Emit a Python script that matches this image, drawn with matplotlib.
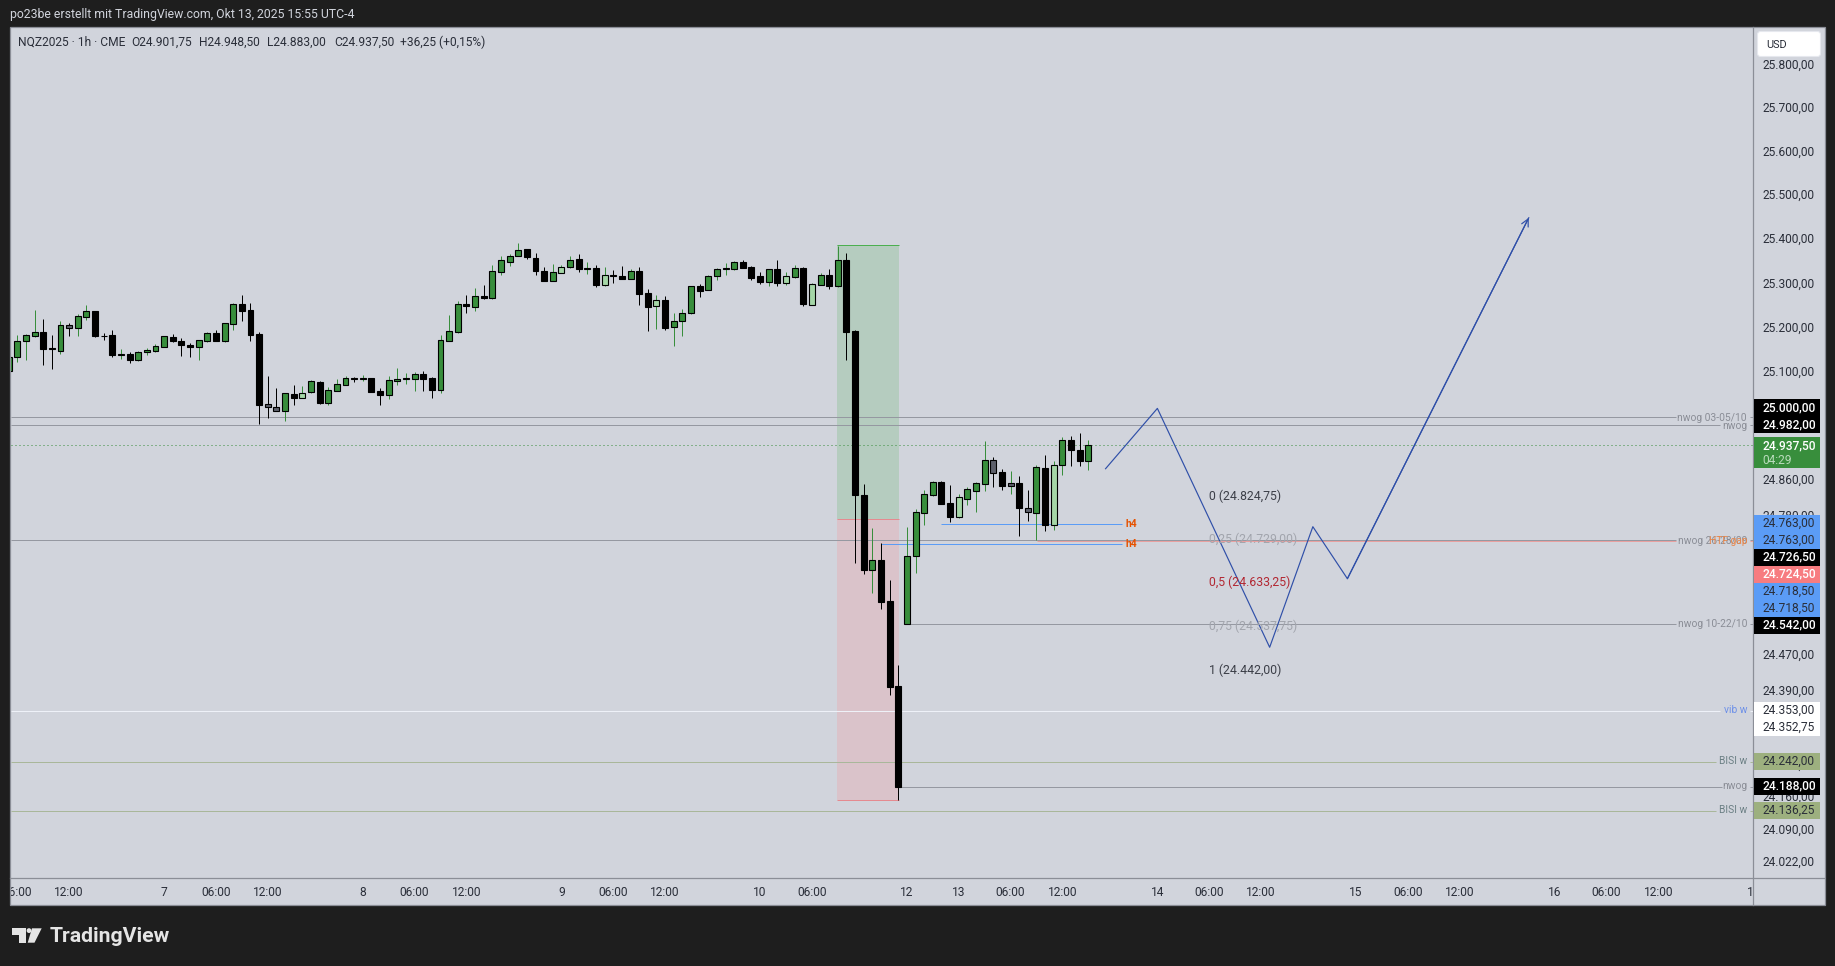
import matplotlib
matplotlib.use("Agg")
import matplotlib.pyplot as plt
from matplotlib.patches import Rectangle, Polygon, Circle, FancyBboxPatch
from matplotlib.ticker import NullLocator

plt.rcParams['font.family'] = ['Roboto', 'DejaVu Sans']

# --- OHLC 1h NQZ2025 ---
opens = [
    25104.5, 25134, 25170, 25183, 25191, 25155.5, 25149.5, 25206.5, 25201, 25226,
    25239, 25183.25, 25184, 25140.5, 25141, 25129, 25146.5, 25149.5, 25158.5, 25179.5,
    25170.5, 25161.5, 25158.5, 25172, 25188.5, 25172, 25210, 25254, 25240, 25186,
    25029, 25024, 25014.5, 25052, 25044, 25057, 25078, 25032.5, 25059.5, 25073,
    25088, 25086.5, 25088, 25058, 25050.5, 25081, 25086.5, 25086.5, 25096, 25088.5,
    25061.5, 25172, 25192, 25254, 25248.5, 25272, 25269, 25327, 25350, 25363,
    25378, 25359.5, 25330, 25307, 25325, 25338.5, 25356, 25334, 25335, 25298,
    25319, 25317, 25311.5, 25330, 25278.5, 25251, 25263, 25203.5, 25215, 25233,
    25294, 25287, 25318, 25334, 25334, 25350.5, 25337, 25317, 25305, 25332.5,
    25302.5, 25316, 25335, 25253, 25298, 25321, 25296, 25353, 25194, 24827,
    24661, 24684, 24593, 24407, 24542, 24691, 24788, 24828, 24855, 24809,
    24779, 24819, 24836.5, 24852, 24905.5, 24877, 24847.5, 24853, 24798, 24788,
    24888, 24760.5, 24894.5, 24949.5, 24927.5, 24901.75,
]
highs = [
    25135, 25184, 25186, 25241, 25221, 25184, 25215.5, 25211, 25232, 25252,
    25239, 25188.5, 25196, 25153, 25146.5, 25149, 25155.5, 25164.5, 25182, 25187,
    25178, 25167, 25173, 25191.5, 25196, 25211, 25256, 25275, 25257, 25191,
    25092.5, 25065.5, 25054, 25072, 25070, 25083.5, 25081, 25068, 25086, 25092.5,
    25090, 25095, 25088, 25065.5, 25092.5, 25110.5, 25099, 25101.5, 25104, 25090.5,
    25185, 25230, 25261, 25275, 25290.5, 25297, 25342, 25362, 25368.5, 25392,
    25378, 25369, 25338, 25344.5, 25342, 25362.5, 25367, 25349, 25341.5, 25338,
    25331, 25340, 25332.5, 25338, 25288, 25275, 25272.5, 25234, 25243, 25295,
    25299.5, 25320, 25335.5, 25347, 25351, 25353.5, 25340, 25326.5, 25332.5, 25353.5,
    25326.5, 25342, 25338, 25301, 25324, 25333, 25386.5, 25369, 25196, 24851,
    24754.5, 24721, 24640, 24453, 24756, 24796, 24838, 24857, 24857, 24849,
    24829, 24845, 24856, 24948, 24910.5, 24884, 24880, 24869, 24838, 24893,
    24915, 24903, 24957, 24959, 24965.5, 24948.5,
]
lows = [
    25104.5, 25124, 25129, 25179, 25117, 25108, 25142, 25182.5, 25182.5, 25218.5,
    25180, 25173.5, 25135, 25131, 25122, 25126, 25140, 25146.5, 25158, 25169,
    25137.5, 25135, 25128.5, 25169, 25171, 25169, 25196, 25216, 25171, 24985,
    24998.5, 25014, 24992, 25027, 25043, 25054, 25029.5, 25027, 25059, 25072,
    25079, 25081, 25056.5, 25027, 25041, 25072, 25074.5, 25059, 25059, 25043.5,
    25054.5, 25171, 25190, 25234, 25239, 25266, 25266, 25320, 25340, 25362.5,
    25356, 25320, 25306, 25306, 25324, 25335.5, 25326.5, 25322, 25293, 25295,
    25302, 25311, 25311, 25252, 25194, 25198, 25196, 25160, 25182.5, 25232,
    25270, 25286, 25308.5, 25320, 25331, 25335.5, 25308.5, 25299.5, 25295, 25295,
    25297, 25313, 25250, 25252, 25297, 25288, 25293, 25128.5, 24676, 24652,
    24609.5, 24576, 24387, 24160, 24542, 24655, 24760, 24825.5, 24807, 24767,
    24777, 24805, 24790, 24836, 24845, 24838, 24829, 24737, 24770, 24728,
    24748, 24750, 24871, 24891, 24891, 24883,
]
closes = [
    25135, 25170.5, 25184, 25191, 25154, 25152, 25206.5, 25201, 25227, 25238,
    25182.5, 25182.5, 25140, 25141, 25128.5, 25146, 25150, 25159, 25182, 25170,
    25161, 25158.5, 25173, 25188.5, 25172, 25211, 25254, 25239.5, 25185.5, 25028,
    25023.5, 25014.5, 25053.5, 25044, 25053.5, 25080.5, 25032.5, 25060, 25074, 25087,
    25086.5, 25087, 25056.5, 25050, 25083, 25085, 25087, 25096, 25086.5, 25061.5,
    25174, 25193, 25254, 25250, 25272, 25268, 25328, 25353, 25364, 25377.5,
    25361, 25329.5, 25307, 25326, 25339, 25353, 25333, 25335, 25298, 25319,
    25317, 25311.5, 25330, 25278, 25248.5, 25263, 25201, 25215.5, 25233.5, 25294,
    25284.5, 25317, 25332.5, 25335, 25350.5, 25336, 25314, 25305, 25332.5, 25302.5,
    25317, 25335, 25255, 25299, 25321, 25296, 25353, 25192, 24828, 24661,
    24683, 24590, 24405, 24188, 24692, 24789, 24828.5, 24855, 24807, 24779,
    24822, 24839.5, 24853, 24905.5, 24876, 24847, 24853, 24799, 24790, 24890,
    24760, 24894.5, 24949.5, 24927, 24902.5, 24937.5,
]
# velas con relleno distinto (volumen)
light_bars = [34, 64, 69, 75, 90, 93, 110, 121]
gray_bars = [7, 30, 31, 114, 116, 118]

# --- Caja de posicion ---
pos_top, pos_entry, pos_bottom = 25389, 24773, 24160
pos_bars = (95.9, 103.1)

# --- Proyeccion azul ---
path_bars = [127, 133, 146, 151, 155, 176]
path_prices = [24885.4, 25019.9, 24491.4, 24756.8, 24642, 25449.8]

# --- Fibonacci ---
fib_labels = ["0", "0,25", "0,5", "0,75", "1"]
fib_prices = [24824.75, 24729.00, 24633.25, 24537.75, 24442.00]
fib_colors = ["#3c3f48", "#a2a5ad", "#b22833", "#a2a5ad", "#3c3f48"]

# --- Niveles horizontales ---
level_prices = [25000, 24982, 24726.5, 24724.5, 24542, 24353, 24242, 24188, 24136.25]
level_names = ["nwog 03-05/10", "nwog", "nwog 26-28/09", "HTF gap", "nwog 10-22/10",
               "vib w", "BISI w", "nwog", "BISI w"]
h4_prices = [24763, 24718.5]

# --- Ejes ---
price_ticks = [25800, 25700, 25600, 25500, 25400, 25300, 25200, 25100, 24860, 24780,
               24470, 24390, 24230, 24160, 24090, 24022]
time_bars = [1, 7, 18, 24, 30, 41, 47, 53, 64, 70, 76, 87, 93, 104, 110, 116, 122,
             133, 139, 145, 156, 162, 168, 179, 185, 191, 201.6]
time_labels = ["06:00", "12:00", "7", "06:00", "12:00", "8", "06:00", "12:00", "9",
               "06:00", "12:00", "10", "06:00", "12", "13", "06:00", "12:00", "14",
               "06:00", "12:00", "15", "06:00", "12:00", "16", "06:00", "12:00", "1"]

# etiquetas del eje de precios
tag_values = [25000, 24982, 24937.5, 24763, 24763, 24726.5, 24724.5, 24718.5, 24718.5,
              24542, 24353, 24352.75, 24242, 24188, 24136.25]

# --- Layout en pixeles ---
W, H = 1835, 966
LEFT, RIGHT, TOP, BOTTOM = 11, 1753, 27, 878
BAR0_PX, BAR_PX = 8.66, 8.637
BG = "#d1d4dc"
DARK = "#1e1e1e"
GREEN = "#388e3c"
LIGHT = "#a5d6a7"
GRAY = "#5d606b"
LINE_GRAY = "#9598a1"
BLUE = "#5b9cf6"
TXT = "#2a2e39"
PX12 = 8.64  # 12 px en puntos a dpi 100
YMIN, YMAX = 23991.6, 25887.4


def to_bar(px):
    return (px - BAR0_PX) / BAR_PX


def fmt(v):
    return f"{v:,.2f}".replace(",", " ").replace(".", ",").replace(" ", ".")


def axes_px(x0, y0, x1, y1):
    return [x0 / W, 1 - y1 / H, (x1 - x0) / W, (y1 - y0) / H]


def hline(axis, price, a, b, **kw):
    lc = axis.hlines(price, a, b, **kw)
    lc.set_snap(True)
    return lc


fig = plt.figure(figsize=(W / 100, H / 100), dpi=100, facecolor=DARK)

# fondo y marcos
bg = fig.add_axes([0, 0, 1, 1], zorder=0)
bg.set_xlim(0, W)
bg.set_ylim(H, 0)
bg.axis("off")
bg.add_patch(Rectangle((10, 27), 1814.5, 878, fc=BG, ec="#8b8e97", lw=0.9))
bg.plot([RIGHT + 0.3, RIGHT + 0.3], [27, 905], color="#8b8e97", lw=0.9)
bg.plot([10, 1824], [878.3, 878.3], color="#8b8e97", lw=0.9)

# panel principal
ax = fig.add_axes(axes_px(LEFT, TOP, RIGHT, BOTTOM), zorder=1, facecolor="none")
ax.set_yscale("log")
ax.set_xlim(to_bar(LEFT), to_bar(RIGHT))
ax.set_ylim(YMIN, YMAX)
ax.yaxis.set_major_locator(NullLocator())
ax.yaxis.set_minor_locator(NullLocator())
ax.set_xticks([])
for s in ax.spines.values():
    s.set_visible(False)

# caja de posicion
ax.add_patch(Rectangle((pos_bars[0], pos_entry), pos_bars[1] - pos_bars[0], pos_top - pos_entry,
                       fc="#b5ccbf", ec="none", zorder=1))
ax.add_patch(Rectangle((pos_bars[0], pos_bottom), pos_bars[1] - pos_bars[0], pos_entry - pos_bottom,
                       fc="#dac3ca", ec="none", zorder=1))
hline(ax, pos_top, *pos_bars, color="#4caf50", lw=0.72, zorder=2)
hline(ax, pos_entry, *pos_bars, color="#e58a90", lw=0.72, zorder=2)
hline(ax, pos_bottom, *pos_bars, color="#e58a90", lw=0.72, zorder=2)

# niveles: inicio y fin de cada linea en pixeles
level_start = [LEFT, LEFT, LEFT, 1037, 910, LEFT, LEFT, 898, LEFT]
level_end = [1676, 1720, 1676, 1676, 1676, 1720, 1716, 1722, 1716]
level_colors = [LINE_GRAY, LINE_GRAY, LINE_GRAY, "#e8a0a0", LINE_GRAY, "#eef1f8",
                "#a9b79a", LINE_GRAY, "#a9b79a"]
for p, a, b, c in zip(level_prices, level_start, level_end, level_colors):
    hline(ax, p, to_bar(a), to_bar(b), color=c, lw=0.72, zorder=2)
    hline(ax, p, to_bar(1750), to_bar(RIGHT), color=c, lw=0.72, zorder=2)

# precio actual
hline(ax, closes[-1], to_bar(LEFT), to_bar(RIGHT), color=GREEN, lw=0.72,
      linestyles=(0, (1, 3)), zorder=2)

# h4
h4_start = [941, 880.7]
for p, a in zip(h4_prices, h4_start):
    hline(ax, p, to_bar(a), to_bar(1121.7), color=BLUE, lw=0.72, zorder=2)
    ax.text(to_bar(1125), p, "h4", color="#e65100", fontsize=PX12 * 0.85, fontweight="bold",
            va="center", ha="left", zorder=2)

# velas
xs = list(range(len(opens)))
wick_colors = [GREEN if c >= o else "black" for o, c in zip(opens, closes)]
wicks = ax.vlines(xs, lows, highs, colors=wick_colors, lw=0.72, zorder=3)
wicks.set_snap(True)
fills = []
for i, (o, c) in enumerate(zip(opens, closes)):
    if i in light_bars:
        fills.append(LIGHT)
    elif i in gray_bars:
        fills.append(GRAY)
    else:
        fills.append(GREEN if c >= o else "black")
bottoms = [min(o, c) for o, c in zip(opens, closes)]
heights = [abs(c - o) for o, c in zip(opens, closes)]
ax.bar(xs, heights, bottom=bottoms, width=0.69, color=fills, edgecolor="black", lw=0.8, zorder=4)

# proyeccion
ax.plot(path_bars, path_prices, color="#2f4fa8", lw=0.85, zorder=5)
ax.annotate("", xy=(path_bars[-1], path_prices[-1]), xytext=(path_bars[-2], path_prices[-2]),
            arrowprops=dict(arrowstyle="->", color="#2f4fa8", lw=0.85, shrinkA=0, shrinkB=0,
                            mutation_scale=13), zorder=5)

# fibonacci
for lab, p, c in zip(fib_labels, fib_prices, fib_colors):
    ax.text(to_bar(1209.3), p, f"{lab} ({fmt(p)})", color=c, fontsize=PX12 * 1.02, va="center",
            ha="left", zorder=6)

# eje de precios (las marcas bajas van 2 px mas arriba, como en TradingView)
ax_price = fig.add_axes(axes_px(RIGHT, TOP, 1824, BOTTOM), zorder=1, facecolor="none")
ax_price.set_yscale("log")
ax_price.set_ylim(YMIN, YMAX)
ax_price.set_xlim(RIGHT, 1824)
ax_price.axis("off")
for t in price_ticks:
    ax_price.annotate(fmt(t), xy=(1762, t), xytext=(0, 2 if t < 24500 else 0), textcoords="offset pixels",
                      color=TXT, fontsize=PX12, va="center", ha="left")

# eje de tiempo
ax_time = fig.add_axes(axes_px(LEFT, 878.5, RIGHT, 905), zorder=1, facecolor="none")
ax_time.set_xlim(to_bar(LEFT), to_bar(RIGHT))
ax_time.set_ylim(0, 1)
ax_time.axis("off")
for b, lab in zip(time_bars, time_labels):
    ax_time.text(b, 0.47, lab, ha="center", va="center", fontsize=PX12, color=TXT, clip_on=True)

# capa superior en pixeles: etiquetas, cabecera y logo
ov = fig.add_axes([0, 0, 1, 1], zorder=5, facecolor="none")
ov.set_xlim(0, W)
ov.set_ylim(H, 0)
ov.axis("off")

# posiciones de las etiquetas (desplazadas para no solaparse)
tag_y = [407.7, 424.7, 445.5, 523, 540, 557, 574, 591, 608, 625, 710, 727, 761, 786, 810.5]
tag_bg = ["black", "black", GREEN, BLUE, BLUE, "black", "#f77c80", BLUE, BLUE, "black",
          "white", "white", "#9db07f", "black", "#9db07f"]
tag_fg = ["white", "white", "white", TXT, TXT, "white", "white", TXT, TXT, "white",
          TXT, TXT, TXT, "white", TXT]
for v, y, fc, tc in zip(tag_values, tag_y, tag_bg, tag_fg):
    hh = 31 if fc == GREEN else 17
    top = y - 8.5
    ov.add_patch(Rectangle((1754, top), 66, hh, fc=fc, ec="none"))
    ov.text(1762, y, fmt(v), color=tc, fontsize=PX12, va="center", ha="left",
            fontweight="medium" if tc == "white" else "normal")
ov.text(1762, 460.5, "04:29", color="#b9dcbb", fontsize=PX12, va="center", ha="left")

# nombres de nivel junto al eje
name_y = [417.7, 425.7, 540.7, 540.7, 624.3, 710.3, 761, 786.3, 810.3]
name_colors = ["#8a8d96", "#8a8d96", "#8a8d96", "#e8864a", "#8a8d96", "#6c8fe8",
               "#6b7f84", "#8a8d96", "#6b7f84"]
for name, y, c in zip(level_names, name_y, name_colors):
    ov.text(1747, y, name, color=c, fontsize=PX12 * 0.85, va="center", ha="right")

# USD
ov.add_patch(FancyBboxPatch((1759.5, 33.5), 59, 21, boxstyle="round,pad=2,rounding_size=3",
                            fc="white", ec="#e6e8ee", lw=0.8))
ov.text(1766, 44.5, "USD", color=TXT, fontsize=PX12 * 0.92, va="center", ha="left")

# cabecera
ov.text(10, 14.5, "po23be erstellt mit TradingView.com, Okt 13, 2025 15:55 UTC-4", color=BG,
        fontsize=PX12 * 1.025, va="center", ha="left")
ov.text(18, 42, "NQZ2025 · 1h · CME", color=TXT, fontsize=PX12, va="center", ha="left")
legend_x = [131, 199, 267, 334, 400]
legend_txt = [f"O{fmt(opens[-1])}", f"H{fmt(highs[-1])}", f"L{fmt(lows[-1])}", f"C{fmt(closes[-1])}",
              f"+36,25 (+0,15%)"]
for lx, t in zip(legend_x, legend_txt):
    ov.text(lx, 42, t, color=TXT, fontsize=PX12, va="center", ha="left")

# logo TradingView
logo = "#e4e4e4"
ov.add_patch(Polygon([(12, 928.3), (25.5, 928.3), (25.5, 942.7), (19, 942.7), (19, 935), (12, 935)],
                     closed=True, fc=logo, ec="none"))
ov.add_patch(Circle((29, 930.6), 2.4, fc=logo, ec="none"))
ov.add_patch(Polygon([(32, 928.3), (41.7, 928.3), (34.5, 942.7), (27.7, 942.7)],
                     closed=True, fc=logo, ec="none"))
ov.text(49.5, 937, "TradingView", color=logo, fontsize=15.3, fontweight="bold", va="center", ha="left")

fig.savefig("out.png", dpi=100, facecolor=fig.get_facecolor())
plt.close(fig)
